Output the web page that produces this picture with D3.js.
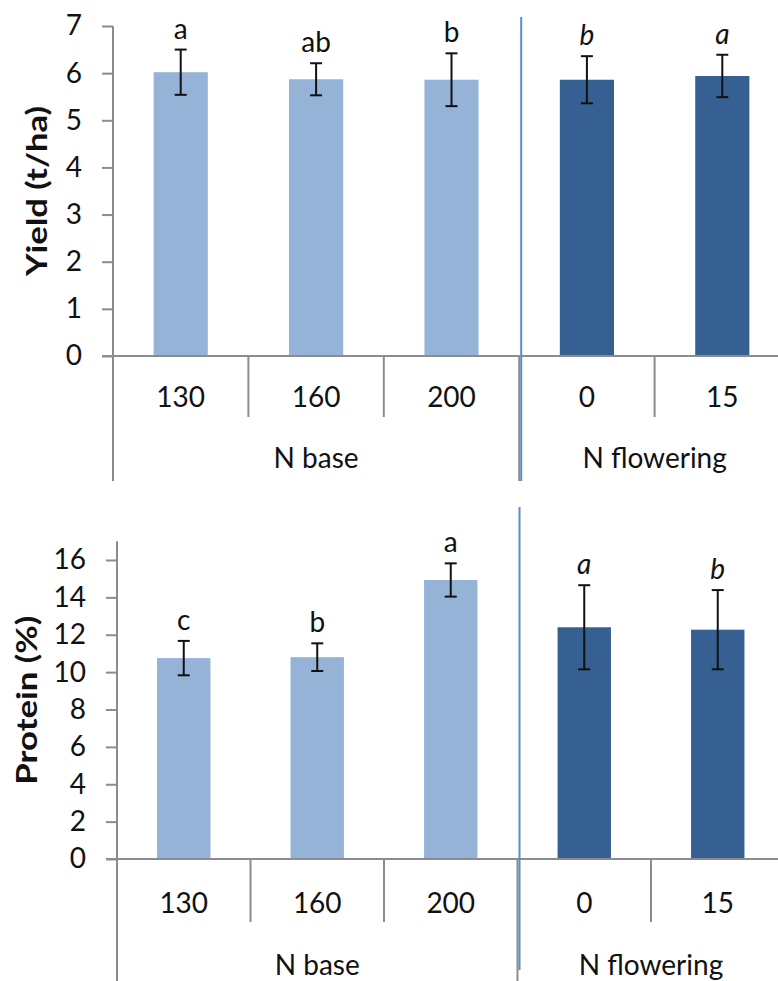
<!DOCTYPE html>
<html>
<head>
<meta charset="utf-8">
<script src="https://cdn.jsdelivr.net/npm/d3@7"></script>
<style>
  html, body { margin: 0; padding: 0; background: #fff; }
  svg { display: block; }
  text { font-family: Lato, "Liberation Sans", sans-serif; fill: #111; }
</style>
</head>
<body>
<svg id="chart" width="778" height="981"></svg>
<script>
// ---- data ----
const categories = ["130", "160", "200", "0", "15"];
const groups = ["N base", "N base", "N base", "N flowering", "N flowering"];
const groupNames = ["N base", "N flowering"];

const yieldMean = [6.02, 5.87, 5.86, 5.86, 5.94];
const yieldErr  = [0.48, 0.34, 0.56, 0.50, 0.45];
const yieldLetters = ["a", "ab", "b", "b", "a"];
const yieldTicks = [0, 1, 2, 3, 4, 5, 6, 7];

const proteinMean = [10.75, 10.80, 14.93, 12.40, 12.27];
const proteinErr  = [0.92, 0.74, 0.89, 2.25, 2.12];
const proteinLetters = ["c", "b", "a", "a", "b"];
const proteinTicks = [0, 2, 4, 6, 8, 10, 12, 14, 16];

const italicLetters = [false, false, false, true, true];

// ---- drawing ----
const svg = d3.select("#chart");
const lightBar = "#95B3D7", darkBar = "#376092";
const axisGray = "#8c8c8c", sepBlue = "#5b8ccc";

function panel(o) {
  const g = svg.append("g");
  const x = d3.scaleBand().domain(categories).range([o.x0, o.x0 + o.band * categories.length])
    .paddingInner(0.6).paddingOuter(0.3);
  const y = d3.scaleLinear().domain(o.domain).range([o.y0, o.ytop]);
  const data = categories.map((c, i) => ({c, m: o.mean[i], e: o.err[i], l: o.letters[i], it: italicLetters[i], grp: groups[i]}));

  // bars
  g.selectAll("rect.bar").data(data).join("rect")
    .attr("x", d => x(d.c)).attr("width", x.bandwidth())
    .attr("y", d => y(d.m)).attr("height", d => y(0) - y(d.m))
    .attr("fill", d => d.grp === groupNames[0] ? lightBar : darkBar);

  // y axis
  const yAxis = d3.axisLeft(y).tickValues(o.ticks).tickSize(11).tickPadding(20).tickFormat(d3.format("d"));
  const ya = g.append("g").attr("transform", `translate(${o.x0},0)`).call(yAxis);
  ya.select(".domain").remove();
  ya.selectAll(".tick line").attr("stroke", axisGray).attr("stroke-width", 2);
  ya.selectAll(".tick text").attr("font-size", 28).attr("font-family", "Lato").attr("fill", "#111");
  // y axis line (extends down through the category area)
  g.append("line").attr("x1", o.x0).attr("x2", o.x0).attr("y1", y(o.domain[1])).attr("y2", o.axisBottom)
    .attr("stroke", axisGray).attr("stroke-width", 2);

  // x axis line
  g.append("line").attr("x1", o.x0 - 11).attr("x2", 778).attr("y1", o.y0).attr("y2", o.y0)
    .attr("stroke", axisGray).attr("stroke-width", 2);

  // category separators
  const step = x.step();
  categories.forEach((c, i) => {
    if (i === 0) return;
    const xs = x(c) - (step - x.bandwidth()) / 2;
    const isGroupEdge = groups[i] !== groups[i - 1];
    g.append("line").attr("x1", xs).attr("x2", xs).attr("y1", o.y0)
      .attr("y2", isGroupEdge ? o.axisBottom : o.catSepBottom)
      .attr("stroke", axisGray).attr("stroke-width", 2);
  });

  // category labels
  g.selectAll("text.cat").data(data).join("text")
    .attr("x", d => x(d.c) + x.bandwidth() / 2).attr("y", o.catBase)
    .attr("text-anchor", "middle").attr("font-size", 28).text(d => d.c);

  // group labels
  groupNames.forEach(gn => {
    const idx = categories.map((c, i) => i).filter(i => groups[i] === gn);
    const left = x(categories[idx[0]]) - (step - x.bandwidth()) / 2;
    const right = x(categories[idx[idx.length - 1]]) + x.bandwidth() + (step - x.bandwidth()) / 2;
    g.append("text").attr("x", (left + right) / 2).attr("y", o.groupBase)
      .attr("text-anchor", "middle").attr("font-size", 28).text(gn);
  });

  // error bars
  const cap = 6;
  const eb = g.selectAll("g.err").data(data).join("g")
    .attr("transform", d => `translate(${x(d.c) + x.bandwidth() / 2},0)`);
  eb.append("line").attr("y1", d => y(d.m + d.e)).attr("y2", d => y(d.m - d.e))
    .attr("stroke", "#111").attr("stroke-width", 2);
  eb.append("line").attr("x1", -cap).attr("x2", cap).attr("y1", d => y(d.m + d.e)).attr("y2", d => y(d.m + d.e))
    .attr("stroke", "#111").attr("stroke-width", 2);
  eb.append("line").attr("x1", -cap).attr("x2", cap).attr("y1", d => y(d.m - d.e)).attr("y2", d => y(d.m - d.e))
    .attr("stroke", "#111").attr("stroke-width", 2);

  // significance letters
  eb.append("text").attr("y", d => y(d.m + d.e) - 11).attr("text-anchor", "middle")
    .attr("font-size", 28).attr("font-style", d => d.it ? "italic" : "normal").text(d => d.l);

  // y title
  g.append("text").attr("transform", `translate(${o.titleX},${(y(o.domain[0]) + y(o.domain[1])) / 2}) rotate(-90)`)
    .attr("text-anchor", "middle").attr("font-size", 29).attr("font-weight", "bold")
    .attr("textLength", o.titleLen).attr("lengthAdjust", "spacingAndGlyphs").text(o.title);

  // blue group divider
  const divX = x(categories[3]) - (step - x.bandwidth()) / 2 + 2;
  g.append("line").attr("x1", divX).attr("x2", divX).attr("y1", o.blueTop).attr("y2", o.blueBottom)
    .attr("stroke", sepBlue).attr("stroke-width", 2);
}

panel({
  x0: 113, band: 135.4, y0: 356, ytop: 26, domain: [0, 7], ticks: yieldTicks,
  mean: yieldMean, err: yieldErr, letters: yieldLetters,
  axisBottom: 481, catSepBottom: 417, catBase: 407, groupBase: 468,
  title: "Yield (t/ha)", titleX: 47, titleLen: 170, blueTop: 17, blueBottom: 481
});

panel({
  x0: 117, band: 133.5, y0: 859, ytop: 541.3, domain: [0, 17], ticks: proteinTicks,
  mean: proteinMean, err: proteinErr, letters: proteinLetters,
  axisBottom: 981, catSepBottom: 922, catBase: 913, groupBase: 975,
  title: "Protein (%)", titleX: 37, titleLen: 169, blueTop: 507, blueBottom: 970
});
</script>
</body>
</html>
